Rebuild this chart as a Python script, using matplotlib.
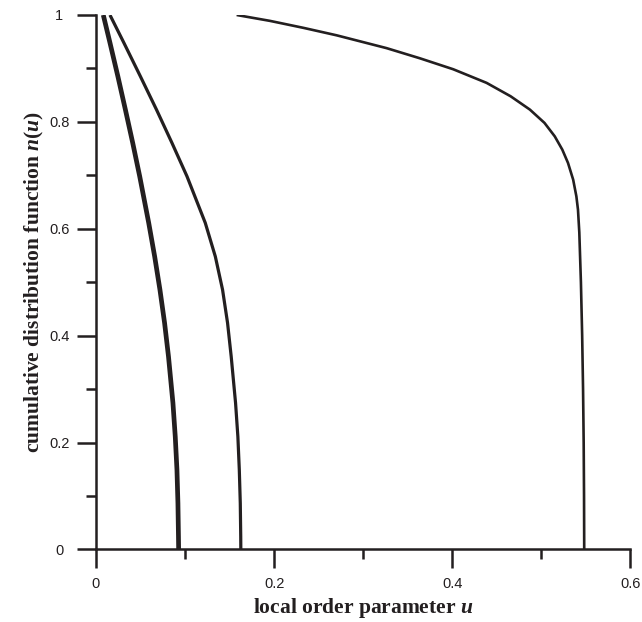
import matplotlib
matplotlib.use("Agg")
import matplotlib.pyplot as plt

# curves (u, n)
u_a = [0.0082, 0.0157, 0.0246, 0.0330, 0.0412, 0.0491, 0.0592, 0.0659,
       0.0718, 0.0770, 0.0814, 0.0864, 0.0890, 0.0909, 0.0920, 0.0926, 0.0928]
n_a = [1.0, 0.948, 0.885, 0.823, 0.761, 0.698, 0.611, 0.548,
       0.486, 0.424, 0.361, 0.274, 0.211, 0.149, 0.0865, 0.024, 0.0]

u_b = [0.0157, 0.0313, 0.0499, 0.0679, 0.0852, 0.1022, 0.1227, 0.1340,
       0.1421, 0.1477, 0.1518, 0.1567, 0.1593, 0.1609, 0.1620, 0.1625, 0.1626]
n_b = [1.0, 0.948, 0.885, 0.823, 0.761, 0.698, 0.611, 0.548,
       0.486, 0.424, 0.361, 0.274, 0.211, 0.149, 0.0865, 0.024, 0.0]

u_c = [0.1579, 0.1953, 0.2327, 0.2701, 0.2888, 0.3262, 0.3636, 0.4010,
       0.4385, 0.4655, 0.4871, 0.5035, 0.5150, 0.5235, 0.5299, 0.5357,
       0.5393, 0.5411, 0.5426, 0.5444, 0.5458, 0.5468, 0.5475, 0.5479, 0.5481]
n_c = [1.0, 0.989, 0.976, 0.962, 0.954, 0.938, 0.919, 0.8985,
       0.873, 0.8479, 0.823, 0.7981, 0.773, 0.7481, 0.7232, 0.6919,
       0.6607, 0.6358, 0.593, 0.5, 0.4, 0.3, 0.2, 0.1, 0.0]

xticks = [0, 0.2, 0.4, 0.6]
xtick_labels = ["0", "0.2", "0.4", "0.6"]
yticks = [0, 0.2, 0.4, 0.6, 0.8, 1.0]
ytick_labels = ["0", "0.2", "0.4", "0.6", "0.8", "1"]

ink = "#231f20"

plt.rcParams["mathtext.fontset"] = "custom"
plt.rcParams["mathtext.it"] = "Liberation Serif:italic:bold"
plt.rcParams["mathtext.rm"] = "Liberation Serif:bold"

fig = plt.figure(figsize=(6.42, 6.22), dpi=100)
ax = fig.add_axes([0.1495, 0.1166, 0.8325, 0.8593])

ax.plot(u_a, n_a, color=ink, lw=3.4, solid_capstyle="butt", solid_joinstyle="round")
ax.plot(u_b, n_b, color=ink, lw=2.3, solid_capstyle="butt", solid_joinstyle="round")
ax.plot(u_c, n_c, color=ink, lw=1.9, solid_capstyle="butt", solid_joinstyle="round")

ax.set_xlim(0, 0.6)
ax.set_ylim(0, 1)
ax.spines["top"].set_visible(False)
ax.spines["right"].set_visible(False)
for s in ["left", "bottom"]:
    ax.spines[s].set_linewidth(1.8)
    ax.spines[s].set_color(ink)

ax.set_xticks(xticks)
ax.set_xticklabels(xtick_labels, fontfamily="Liberation Sans")
ax.set_yticks(yticks)
ax.set_yticklabels(ytick_labels, fontfamily="Liberation Sans", ha="center")
ax.set_xticks([0.1, 0.3, 0.5], minor=True)
ax.set_yticks([0.1, 0.3, 0.5, 0.7, 0.9], minor=True)
ax.tick_params(which="major", direction="out", length=13.5, width=1.8,
               color=ink, labelsize=10.5, labelcolor=ink)
ax.tick_params(which="minor", direction="out", length=7, width=1.8, color=ink)
ax.tick_params(axis="x", which="major", pad=6)
ax.tick_params(axis="y", which="major", pad=13)

ax.set_xlabel("local order parameter $u$", fontsize=15.5, fontweight="bold",
              fontfamily="Liberation Serif", color=ink, labelpad=4)
ax.set_ylabel("cumulative distribution function $n(u)$", fontsize=15.5,
              fontweight="bold", fontfamily="Liberation Serif", color=ink,
              labelpad=2)

fig.savefig("out.png", dpi=100)
